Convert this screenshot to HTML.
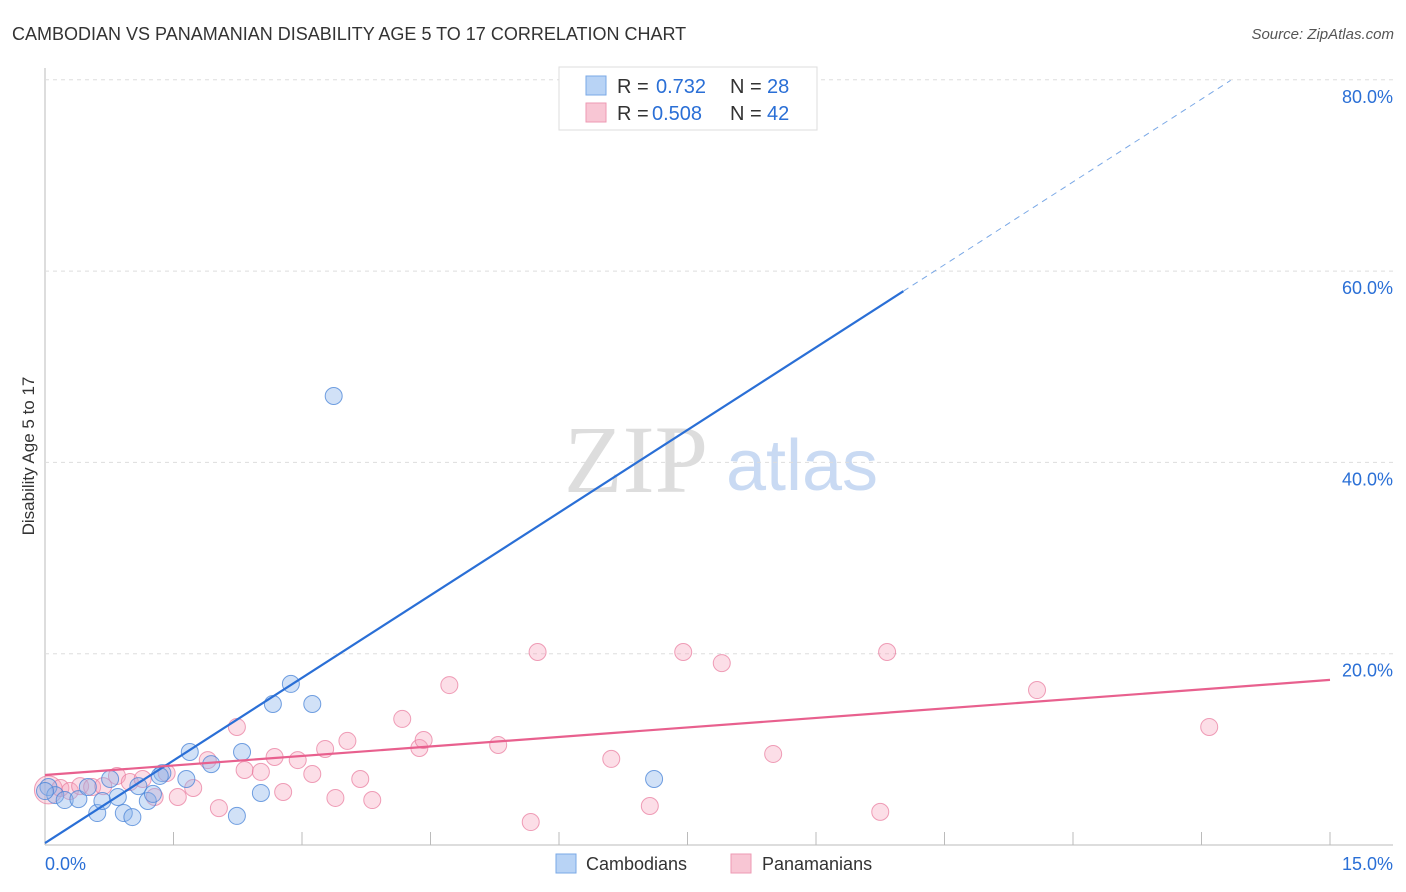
<!DOCTYPE html>
<html><head><meta charset="utf-8"><style>
body{margin:0;background:#fff;font-family:"Liberation Sans",sans-serif;}
svg{display:block}
</style></head><body>
<svg id="c" width="1406" height="892">
<text x="12" y="40" font-size="18" fill="#333">CAMBODIAN VS PANAMANIAN DISABILITY AGE 5 TO 17 CORRELATION CHART</text>
<text x="1394" y="39" font-size="15" fill="#555" font-style="italic" text-anchor="end">Source: ZipAtlas.com</text>
<text x="636" y="492" font-size="96" fill="#ddd" font-family="Liberation Serif,serif" text-anchor="middle">ZIP</text>
<text x="802" y="490" font-size="72" fill="#c9daf3" text-anchor="middle">atlas</text>
<text transform="translate(34,456) rotate(-90)" font-size="17" fill="#333" text-anchor="middle">Disability Age 5 to 17</text>
<g id="grid"></g><g id="pts"></g><g id="lines"></g>
<g>
<rect x="559" y="67" width="258" height="63" fill="#fff" stroke="#ddd"/>
<rect x="586" y="76" width="20" height="19" fill="#b8d3f5" stroke="#7aa8e6"/>
<rect x="586" y="103" width="20" height="19" fill="#f8c6d4" stroke="#ee9ab3"/>
<text y="93" font-size="20" fill="#333"><tspan x="617">R =</tspan><tspan x="656" fill="#2a6fd6">0.732</tspan><tspan x="730">N =</tspan><tspan x="767" fill="#2a6fd6">28</tspan></text>
<text y="120" font-size="20" fill="#333"><tspan x="617">R =</tspan><tspan x="652" fill="#2a6fd6">0.508</tspan><tspan x="730">N =</tspan><tspan x="767" fill="#2a6fd6">42</tspan></text>
</g>
<g>
<rect x="556" y="854" width="20" height="19" fill="#b8d3f5" stroke="#7aa8e6"/>
<text x="586" y="870" font-size="18" fill="#333">Cambodians</text>
<rect x="731" y="854" width="20" height="19" fill="#f8c6d4" stroke="#ee9ab3"/>
<text x="762" y="870" font-size="18" fill="#333">Panamanians</text>
</g>
<text x="45" y="870" font-size="18" fill="#2a6fd6">0.0%</text>
<text x="1393" y="870" font-size="18" fill="#2a6fd6" text-anchor="end">15.0%</text>
</svg>
<script>
const yTicks=[20,40,60,80];
const yTickLabels=["20.0%","40.0%","60.0%","80.0%"];
const xTicks=[1.5,3,4.5,6,7.5,9,10.5,12,13.5,15];
const camX=[0.04,0.12,0.23,0.39,0.50,0.61,0.67,0.76,0.85,0.92,1.02,1.09,1.20,1.26,1.37,1.65,1.69,1.94,2.24,2.30,2.52,2.66,2.87,3.12,3.37,7.11,0.0,1.34];
const camY=[6.06,5.22,4.70,4.80,6.06,3.34,4.60,6.90,5.02,3.34,2.92,6.16,4.60,5.34,7.52,6.90,9.72,8.46,3.04,9.72,5.44,14.74,16.84,14.74,46.94,6.90,5.64,7.22];
const panX=[0.04,0.18,0.29,0.41,0.55,0.68,0.84,0.99,1.14,1.28,1.42,1.55,1.73,1.90,2.03,2.24,2.33,2.52,2.68,2.78,2.95,3.12,3.27,3.39,3.53,3.68,3.82,4.17,4.37,4.42,4.72,5.29,5.67,5.75,6.61,7.06,7.45,7.90,8.50,9.75,9.83,11.58,13.59];
const panY=[5.76,5.96,5.64,6.16,6.06,6.16,7.22,6.58,6.90,5.02,7.52,5.02,5.96,8.88,3.86,12.34,7.84,7.64,9.20,5.54,8.88,7.42,10.04,4.92,10.88,6.90,4.70,13.18,10.14,10.98,16.72,10.46,2.40,20.18,9.00,4.08,20.18,19.02,9.52,3.46,20.18,16.20,12.34];
const camLine=[[0,0.2],[10.02,57.9]];
const camDash=[[10.02,57.9],[13.84,79.94]];
const panLine=[[0,7.32],[15,17.26]];
const X=v=>45+v*1285/15, Y=v=>845-v*9.565;
const NS="http://www.w3.org/2000/svg";
function mk(t,a,p){const e=document.createElementNS(NS,t);for(const k in a)e.setAttribute(k,a[k]);p.appendChild(e);return e;}
const grid=document.getElementById('grid');
mk('line',{x1:45,y1:68,x2:45,y2:845,stroke:'#bbb'},grid);
mk('line',{x1:45,y1:845,x2:1393,y2:845,stroke:'#bbb'},grid);
yTicks.forEach((t,i)=>{
 const l=mk('line',{x1:45,y1:Y(t),x2:1393,y2:Y(t),stroke:'#ddd','stroke-dasharray':'4,4'},grid);
 
 
 const tx=mk('text',{x:1393,y:Y(t)+23,'font-size':18,fill:'#2a6fd6','text-anchor':'end'},grid);
 tx.textContent=yTickLabels[i];
 
 
});
xTicks.forEach(t=>{
 const l=mk('line',{x1:X(t),y1:832,x2:X(t),y2:845,stroke:'#bbb'},grid);
 
 
});
const pts=document.getElementById('pts');
panX.forEach((x,i)=>{
 const c=mk('circle',{cx:X(x),cy:Y(panY[i]),r:i==0?14:8.5,fill:'rgba(245,160,185,0.35)',stroke:'rgba(232,120,155,0.7)'},pts);
 
 
});
camX.forEach((x,i)=>{
 const c=mk('circle',{cx:X(x),cy:Y(camY[i]),r:8.5,fill:'rgba(140,180,235,0.4)',stroke:'rgba(70,130,215,0.75)'},pts);
 
 
});
const lines=document.getElementById('lines');
let l1=mk('line',{x1:X(camLine[0][0]),y1:Y(camLine[0][1]),x2:X(camLine[1][0]),y2:Y(camLine[1][1]),stroke:'#2a6fd6','stroke-width':2.2},lines);


let l2=mk('line',{x1:X(camDash[0][0]),y1:Y(camDash[0][1]),x2:X(camDash[1][0]),y2:Y(camDash[1][1]),stroke:'#7aa8e6','stroke-width':1,'stroke-dasharray':'6,5'},lines);


let l3=mk('line',{x1:X(panLine[0][0]),y1:Y(panLine[0][1]),x2:X(panLine[1][0]),y2:Y(panLine[1][1]),stroke:'#e8608e','stroke-width':2.2},lines);


</script>
</body></html>
